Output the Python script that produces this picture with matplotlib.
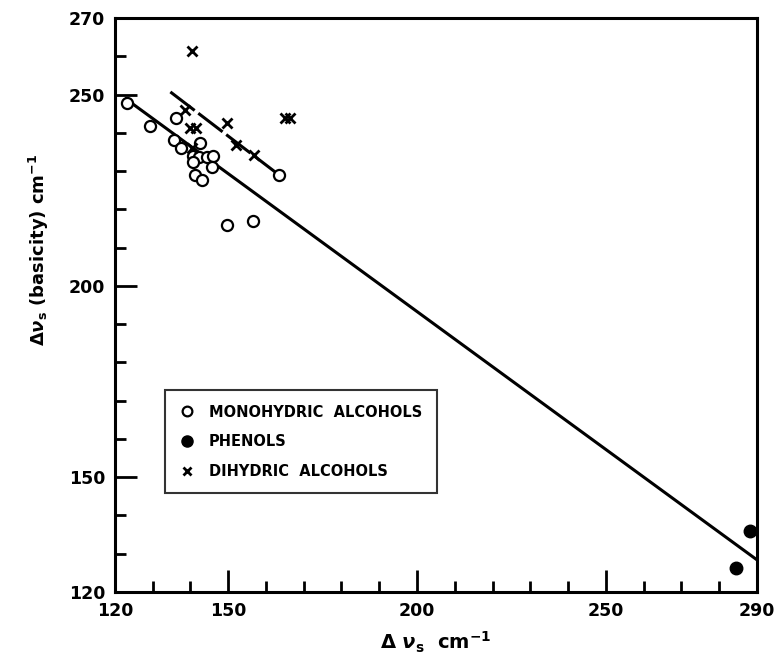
import matplotlib
matplotlib.use('Agg')
import matplotlib.pyplot as plt
from matplotlib.lines import Line2D
from matplotlib.ticker import MultipleLocator, FixedLocator

plt.rcParams['font.family'] = ['DejaVu Sans']
plt.rcParams['mathtext.fontset'] = 'custom'
plt.rcParams['mathtext.rm'] = 'DejaVu Sans:bold'
plt.rcParams['mathtext.it'] = 'DejaVu Sans:italic:bold'
plt.rcParams['mathtext.bf'] = 'DejaVu Sans:bold'

# monohydric alcohols (open circles)
mono_x = [123.3, 129.4, 136.3, 135.6, 137.4, 142.5, 140.7, 142.3, 144.3, 146.0,
          140.6, 145.6, 141.2, 143.2, 149.6, 156.6, 163.4]
mono_y = [247.7, 241.8, 244.0, 238.1, 236.1, 237.3, 233.9, 233.8, 233.8, 234.0,
          232.5, 231.1, 229.0, 227.7, 215.9, 217.0, 229.0]

# phenols (filled circles)
phen_x = [288.2, 284.5]
phen_y = [136.0, 126.2]

# dihydric alcohols (x)
di_x = [140.3, 138.5, 140.0, 141.4, 140.3, 149.8, 152.2, 156.8, 165.0, 166.3]
di_y = [261.5, 246.0, 241.2, 241.2, 236.0, 242.6, 236.8, 234.2, 243.8, 243.8]

# fitted lines (end points)
fit_x = [122.6, 290.0]
fit_y = [249.1, 128.4]
dash_x = [134.7, 162.4]
dash_y = [250.7, 229.8]

fig = plt.figure(figsize=(7.76, 6.69), dpi=100)
ax = fig.add_axes([0.148, 0.1151, 0.8275, 0.8579])

ax.plot(fit_x, fit_y, color='black', linewidth=2.2, solid_capstyle='butt')
ax.plot(dash_x, dash_y, color='black', linewidth=2.2, dashes=(10, 1.5))

ax.plot(mono_x, mono_y, 'o', markersize=8, markerfacecolor='white',
        markeredgecolor='black', markeredgewidth=1.6, linestyle='none')
ax.plot(phen_x, phen_y, 'o', markersize=9, color='black', linestyle='none')
ax.plot(di_x, di_y, 'x', markersize=7, color='black', markeredgewidth=2,
        linestyle='none')

ax.set_xlim(120, 290)
ax.set_ylim(120, 270)

ax.xaxis.set_major_locator(FixedLocator([120, 150, 200, 250, 290]))
ax.yaxis.set_major_locator(FixedLocator([120, 150, 200, 250, 270]))
ax.xaxis.set_minor_locator(MultipleLocator(10))
ax.yaxis.set_minor_locator(MultipleLocator(10))
ax.tick_params(which='both', direction='in', top=False, right=False,
               width=2, labelsize=12.5, pad=7)
ax.tick_params(which='major', length=16)
ax.tick_params(which='minor', length=8)
for lab in ax.get_xticklabels() + ax.get_yticklabels():
    lab.set_fontweight('bold')

for s in ax.spines.values():
    s.set_linewidth(2.2)

ax.set_xlabel(r'$\Delta\ \nu_{\rm s}\ \ {\rm cm}^{-1}$', fontsize=14)
ax.set_ylabel(r'$\Delta\nu_{\rm s}$ (basicity) cm$^{-1}$', fontsize=13,
              fontweight='bold')
ax.xaxis.set_label_coords(0.5, -0.065)
ax.yaxis.set_label_coords(-0.1, 0.597)

handles = [
    Line2D([], [], marker='o', linestyle='none', markersize=7,
           markerfacecolor='white', markeredgecolor='black', markeredgewidth=1.6),
    Line2D([], [], marker='o', linestyle='none', markersize=8, color='black'),
    Line2D([], [], marker='x', linestyle='none', markersize=6, color='black',
           markeredgewidth=2),
]
labels = ['MONOHYDRIC  ALCOHOLS', 'PHENOLS', 'DIHYDRIC  ALCOHOLS']
leg = ax.legend(handles, labels, loc='upper left', bbox_to_anchor=(0.078, 0.352),
                frameon=True, fancybox=False, edgecolor='black',
                prop={'size': 10.5, 'weight': 'bold'}, handlelength=1.0,
                handletextpad=1.0, labelspacing=1.0, borderpad=1.0,
                borderaxespad=0)
leg.get_frame().set_linewidth(1.5)

fig.savefig('out.png', dpi=100)
